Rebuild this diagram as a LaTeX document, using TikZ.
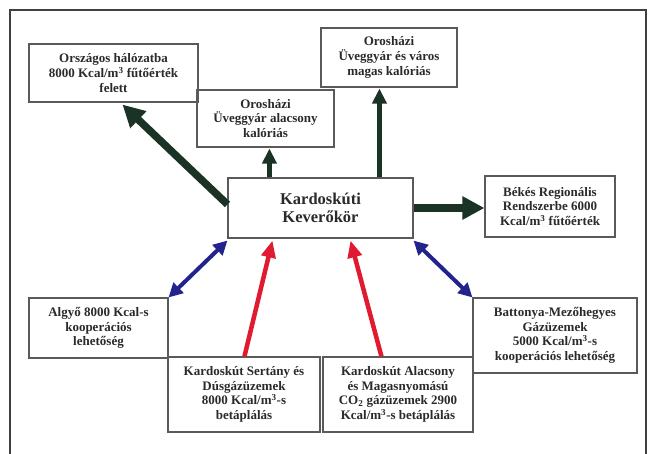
\documentclass[tikz,border=0pt]{standalone}
\usepackage{fontspec}
\setmainfont{Liberation Serif}
\usetikzlibrary{arrows.meta,calc}
\definecolor{darkg}{HTML}{1B3325}
\definecolor{bluec}{HTML}{23238E}
\definecolor{redc}{HTML}{E01A30}
\definecolor{boxline}{HTML}{5A5A5A}
\definecolor{txt}{HTML}{2A2A2A}
\begin{document}
\begin{tikzpicture}[x=1pt,y=-1pt,
  box/.style={draw=boxline, line width=1.1pt, align=center, inner sep=0pt,
    font=\bfseries\fontsize{13}{14.6}\selectfont, text=txt},
  bigbox/.style={box, font=\bfseries\fontsize{16.5}{18.5}\selectfont},
  bigg/.style={draw=darkg, line width=7.5pt, -{Triangle[width=22pt,length=22pt]}},
  smallg/.style={draw=darkg, line width=5pt, -{Triangle[width=14pt,length=15pt]}},
  redarr/.style={draw=redc, line width=4.5pt, -{Triangle[width=14pt,length=17pt]}},
  bluearr/.style={draw=bluec, line width=4pt, {Triangle[width=14pt,length=14pt]}-{Triangle[width=14pt,length=14pt]}}]
\useasboundingbox (0,0) rectangle (656,454);
\fill[white] (0,0) rectangle (656,454);
\draw[line width=1.5pt, draw=black!75] (10,470) -- (10,10) -- (646,10) -- (646,470);

\node[box, minimum width=169pt, minimum height=58pt] (b1) at (113.5,73)
  {Országos hálózatba\\8000 Kcal/m\textsuperscript{3} fűtőérték\\felett};
\node[box, minimum width=137pt, minimum height=57pt] (b2) at (265.5,118.5)
  {Orosházi\\Üveggyár alacsony\\kalóriás};
\node[box, minimum width=136pt, minimum height=59pt] (b3) at (389,57.5)
  {Orosházi\\Üveggyár és város\\magas kalóriás};
\node[bigbox, minimum width=185pt, minimum height=60pt] (c) at (320.5,208)
  {Kardoskúti\\Keverőkör};
\node[box, minimum width=130pt, minimum height=61pt] (bek) at (550,206.5)
  {Békés Regionális\\Rendszerbe 6000\\Kcal/m\textsuperscript{3} fűtőérték};
\node[box, minimum width=139pt, minimum height=60pt] (alg) at (98.5,328)
  {Algyő 8000 Kcal-s\\kooperációs\\lehetőség};
\node[box, minimum width=152pt, minimum height=75pt] (ser) at (244,394.5)
  {Kardoskút Sertány és\\Dúsgázüzemek\\8000 Kcal/m\textsuperscript{3}-s\\betáplálás};
\node[box, minimum width=150pt, minimum height=75pt] (ala) at (398,394.5)
  {Kardoskút Alacsony\\és Magasnyomású\\CO\textsubscript{2} gázüzemek 2900\\Kcal/m\textsuperscript{3}-s betáplálás};
\node[box, minimum width=164pt, minimum height=75pt] (bat) at (555,335.5)
  {Battonya-Mezőhegyes\\Gázüzemek\\5000 Kcal/m\textsuperscript{3}-s\\kooperációs lehetőség};

\draw[bigg] ($(c.north west)+(0,27)$) -- ($(b1.south west)+(94,2)$);
\draw[smallg] ($(c.north west)+(42,0)$) -- ($(b2.south west)+(73,1)$);
\draw[smallg] ($(c.north west)+(152,0)$) -- ($(b3.south west)+(59,1)$);
\draw[bigg] (c.east) -- (bek.west |- c.east);
\draw[bluearr] ($(c.south west)+(0,2)$) -- (alg.north east);
\draw[bluearr] ($(c.south east)+(0,2)$) -- (bat.north west);
\draw[redarr] ($(ser.north west)+(77,0)$) -- ($(c.south west)+(45,2)$);
\draw[redarr] ($(ala.north west)+(59,0)$) -- ($(c.south west)+(123,2)$);
\end{tikzpicture}
\end{document}
